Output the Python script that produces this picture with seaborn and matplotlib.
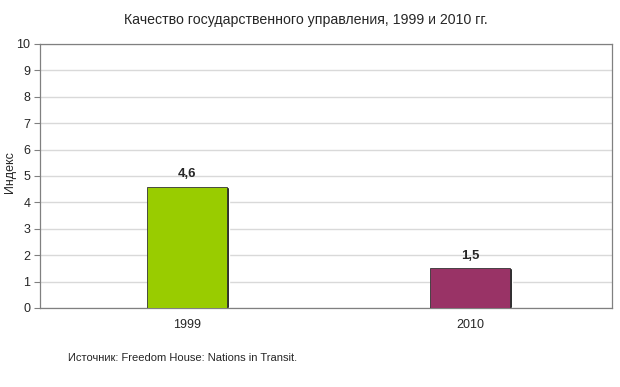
import matplotlib
matplotlib.use("Agg")
import matplotlib.pyplot as plt
import seaborn as sns
import pandas as pd

years = ["1999", "2010"]
values = [4.6, 1.5]
value_labels = ["4,6", "1,5"]
colors = ["#99CC00", "#993366"]
yticks = list(range(0, 11))

sns.set_style("white")
plt.rcParams["font.family"] = ["Liberation Sans", "DejaVu Sans"]

df = pd.DataFrame({"year": years, "value": values})

fig = plt.figure(figsize=(6.2, 3.87), dpi=100)
ax = fig.add_axes([40/620, 1-308/387, (612-40)/620, (308-44)/387])

# shadow
sns.barplot(data=df, x="year", y="value", hue="year", palette=["#000000", "#000000"],
            width=0.28, legend=False, ax=ax, zorder=2, saturation=1)
for p in ax.patches:
    p.set_x(p.get_x() + 0.008)
n_shadow = len(ax.patches)
sns.barplot(data=df, x="year", y="value", hue="year", palette=colors,
            width=0.28, legend=False, ax=ax, zorder=3, saturation=1)
for p in ax.patches[n_shadow:]:
    p.set_edgecolor("#333333")
    p.set_linewidth(0.6)

for i, (v, lab) in enumerate(zip(values, value_labels)):
    ax.text(i, v + 0.25, lab, ha="center", va="bottom", fontsize=9.5, fontweight="bold")

ax.set_ylim(0, 10)
ax.set_xlim(-0.519, 1.501)
ax.set_yticks(yticks)
ax.set_yticklabels([str(t) for t in yticks], fontsize=9)
ax.tick_params(axis="x", length=0, labelsize=9, pad=8)
ax.tick_params(axis="y", length=4, width=0.8, color="#808080", direction="out", left=True, pad=3)
ax.yaxis.grid(True, color="#D9D9D9", linewidth=1.0, zorder=0)
ax.set_axisbelow(True)
for s in ax.spines.values():
    s.set_color("#808080")
    s.set_linewidth(0.9)
ax.set_xlabel("")
ax.set_ylabel("")

fig.text(10/620, 1-172/387, "Индекс", rotation=90, ha="center", va="center", fontsize=9)
fig.text(306/620, 1-20/387, "Качество государственного управления, 1999 и 2010 гг.",
         ha="center", va="center", fontsize=10.2)
fig.text(68/620, 1-358/387, "Источник: Freedom House: Nations in Transit.",
         ha="left", va="center", fontsize=8)

fig.savefig("out.png", dpi=100, facecolor="white")
